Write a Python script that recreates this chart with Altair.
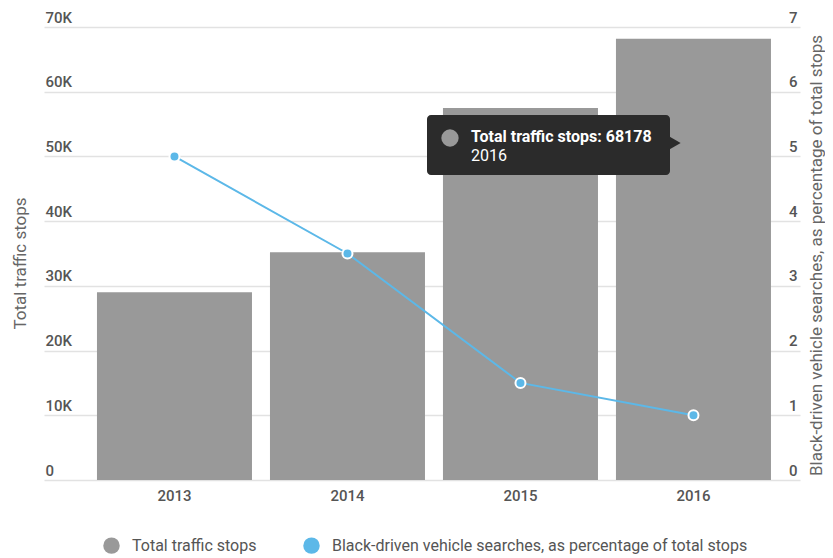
import altair as alt
import pandas as pd

years = ["2013", "2014", "2015", "2016"]
stops = [29000, 35200, 57500, 68178]
search_pct = [5.0, 3.5, 1.5, 1.0]
series_names = ["Total traffic stops", "Black-driven vehicle searches, as percentage of total stops"]
series_colors = ["#999999", "#5cb8e8"]
left_ticks = [0, 10000, 20000, 30000, 40000, 50000, 60000, 70000]
right_ticks = [0, 1, 2, 3, 4, 5, 6, 7]

df = pd.DataFrame({
    "year": years,
    "stops": stops,
    "pct": search_pct,
    "s_bar": series_names[0],
    "s_line": series_names[1],
})

tip_df = pd.DataFrame({
    "label": [f"Total traffic stops: {stops[3]}"],
    "year": [years[3]],
})

FONT = "Roboto"
color_scale = alt.Scale(domain=series_names, range=series_colors)

xenc = alt.X(
    "year:N",
    sort=years,
    scale=alt.Scale(paddingInner=0.104, paddingOuter=0.237, align=0.646),
    axis=alt.Axis(title=None, labelAngle=0, labelFont=FONT, labelFontSize=15,
                  labelColor="#555555", labelFontWeight=500, labelPadding=8,
                  domain=False, ticks=False, grid=False),
)

legend = alt.Legend(
    title=None, orient="none", legendX=59, legendY=510, direction="horizontal",
    symbolType="circle", symbolSize=270, symbolStrokeWidth=0,
    labelFont=FONT, labelFontSize=16, labelColor="#555555", columnPadding=46,
    labelOffset=12, symbolOpacity=1, padding=0, labelLimit=0,
)

bars = alt.Chart(df).mark_bar().encode(
    x=xenc,
    y=alt.Y(
        "stops:Q",
        scale=alt.Scale(domain=[0, 70000], nice=False),
        axis=alt.Axis(
            title="Total traffic stops", orient="left", values=left_ticks,
            labelExpr="datum.value == 0 ? '0' : (datum.value / 1000) + 'K'",
            labelAlign="left", labelBaseline="alphabetic", labelOffset=-5,
            labelPadding=-1, tickSize=0, ticks=False, domain=False,
            labelFont=FONT, labelFontSize=15, labelColor="#555555", labelFontWeight=500,
            grid=True, gridColor="#e2e2e2", gridWidth=1.5,
            titleFont=FONT, titleFontSize=17, titleFontWeight="normal", titleColor="#666666",
            titleAngle=270, titleX=-24, titleY=236, titleAlign="center", titleBaseline="middle",
        ),
    ),
    color=alt.Color("s_bar:N", scale=color_scale, legend=legend),
)

yright = alt.Y(
    "pct:Q",
    scale=alt.Scale(domain=[0, 7], nice=False),
    axis=alt.Axis(
        title="Black-driven vehicle searches, as percentage of total stops", orient="right",
        values=right_ticks, labelAlign="right", labelBaseline="alphabetic", labelOffset=-5,
        labelPadding=-3, tickSize=0, ticks=False, domain=False, grid=False,
        labelFont=FONT, labelFontSize=15, labelColor="#555555", labelFontWeight=500,
        titleFont=FONT, titleFontSize=17, titleFontWeight="normal", titleColor="#666666",
        titleAngle=270, titleX=16, titleY=228, titleAlign="center", titleBaseline="middle",
    ),
)

line = alt.Chart(df).mark_line(strokeWidth=2).encode(
    x=xenc,
    y=yright,
    color=alt.Color("s_line:N", scale=color_scale, legend=legend),
)

points = alt.Chart(df).mark_circle(size=100, opacity=1, stroke="white", strokeWidth=2).encode(
    x=xenc,
    y=alt.Y("pct:Q", scale=alt.Scale(domain=[0, 7], nice=False), axis=None),
    color=alt.Color("s_line:N", scale=color_scale, legend=legend),
)

tip_box = alt.Chart(tip_df).mark_rect(color="#2b2b2b", cornerRadius=4).encode(
    x=alt.value(383), x2=alt.value(626), y=alt.value(88), y2=alt.value(148),
)
tip_arrow = alt.Chart(tip_df).mark_point(shape="triangle-right", filled=True, color="#2b2b2b",
                                         size=170, opacity=1).encode(
    x=alt.value(631), y=alt.value(116),
)
tip_dot = alt.Chart(tip_df).mark_circle(color="#999999", size=300, opacity=1).encode(
    x=alt.value(406), y=alt.value(111),
)
tip_text = alt.Chart(tip_df).mark_text(align="left", baseline="middle", font=FONT, fontSize=16,
                                       fontWeight="bold", color="white").encode(
    x=alt.value(427), y=alt.value(110), text="label:N",
)
tip_year = alt.Chart(tip_df).mark_text(align="left", baseline="middle", font=FONT, fontSize=16,
                                       color="white").encode(
    x=alt.value(427), y=alt.value(129), text="year:N",
)

chart = alt.layer(bars, line, points, tip_box, tip_arrow, tip_dot, tip_text, tip_year).resolve_scale(
    y="independent"
).properties(
    width=756, height=453,
    autosize=alt.AutoSizeParams(type="none"),
    padding={"left": 36, "top": 19, "right": 25, "bottom": 78},
    background="white",
).configure_view(stroke=None)

chart.save("out.html", embed_options={"renderer": "svg", "actions": False})
